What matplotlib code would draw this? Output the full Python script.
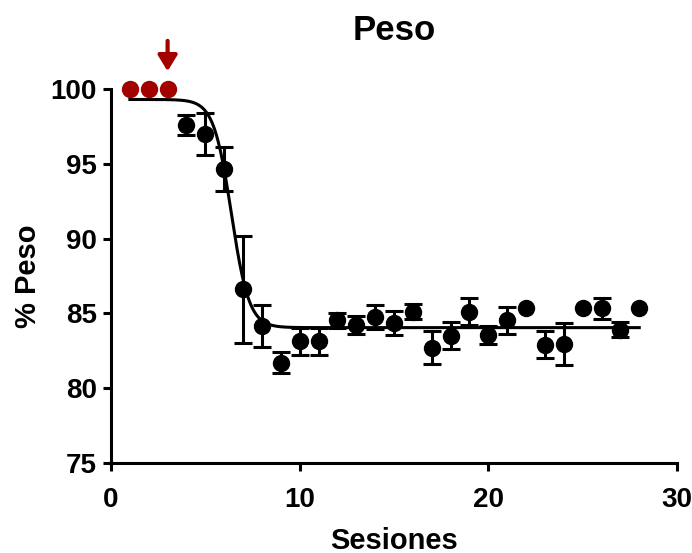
import numpy as np
import matplotlib.pyplot as plt

plt.rcParams['font.family'] = ['Liberation Sans', 'DejaVu Sans']
plt.rcParams['font.weight'] = 'bold'

# baseline sessions (red) and following sessions (black, mean +/- error)
base_x = [1, 2, 3]
base_y = [100, 100, 100]

sesiones = [4, 5, 6, 7, 8, 9, 10, 11, 12, 13, 14, 15, 16, 17, 18, 19, 20,
            21, 22, 23, 24, 25, 26, 27, 28]
peso = [97.6, 97.0, 94.65, 86.6, 84.15, 81.7, 83.15, 83.15, 84.55, 84.2,
        84.75, 84.35, 85.1, 82.7, 83.5, 85.1, 83.55, 84.55, 85.35, 82.9,
        82.95, 85.35, 85.35, 83.9, 85.35]
# nan = error bar hidden behind the marker
err = [0.67, 1.4, 1.5, 3.6, 1.4, 0.7, 0.9, 0.9, 0.5, 0.6, 0.8, 0.8, 0.5,
       1.1, 0.9, 0.9, 0.6, 0.9, np.nan, 0.9, 1.4, np.nan, 0.7, 0.5, np.nan]

# sigmoidal fit parameters
fit_top = 99.3
fit_bottom = 84.05
fit_x50 = 6.38
fit_slope = 0.47

red = '#A30000'

fig = plt.figure(figsize=(6.92, 5.53), dpi=100)
ax = fig.add_axes([0.1604, 0.1627, 0.8179, 0.6764])

xf = np.linspace(1, 28, 400)
yf = fit_bottom + (fit_top - fit_bottom) / (1 + np.exp((xf - fit_x50) / fit_slope))
ax.plot(xf, yf, color='black', linewidth=2.2, zorder=2)

ax.errorbar(sesiones, peso, yerr=err, fmt='o', color='black', markersize=11.5,
            elinewidth=2.2, capsize=6.5, capthick=2.2, zorder=3)
ax.plot(base_x, base_y, 'o', color=red, markersize=11.5, clip_on=False, zorder=4)

ax.annotate('', xy=(3, 101.0), xytext=(3, 103.4),
            arrowprops=dict(arrowstyle='-|>,head_width=0.58,head_length=0.95',
                            color=red, lw=3),
            annotation_clip=False)

ax.set_xlim(0, 30)
ax.set_ylim(75, 100)
ax.set_xticks([0, 10, 20, 30])
ax.set_yticks([75, 80, 85, 90, 95, 100])
ax.spines['top'].set_visible(False)
ax.spines['right'].set_visible(False)
ax.spines['left'].set_linewidth(2.2)
ax.spines['bottom'].set_linewidth(2.2)
ax.tick_params(direction='out', length=6, width=2.2, labelsize=20, pad=4)
ax.tick_params(axis='x', pad=11)

ax.set_title('Peso', fontsize=25, fontweight='bold', pad=35)
ax.set_xlabel('Sesiones', fontsize=21, fontweight='bold', labelpad=10)
ax.set_ylabel('% Peso', fontsize=21, fontweight='bold', labelpad=6)

fig.savefig('out.png', dpi=100)
